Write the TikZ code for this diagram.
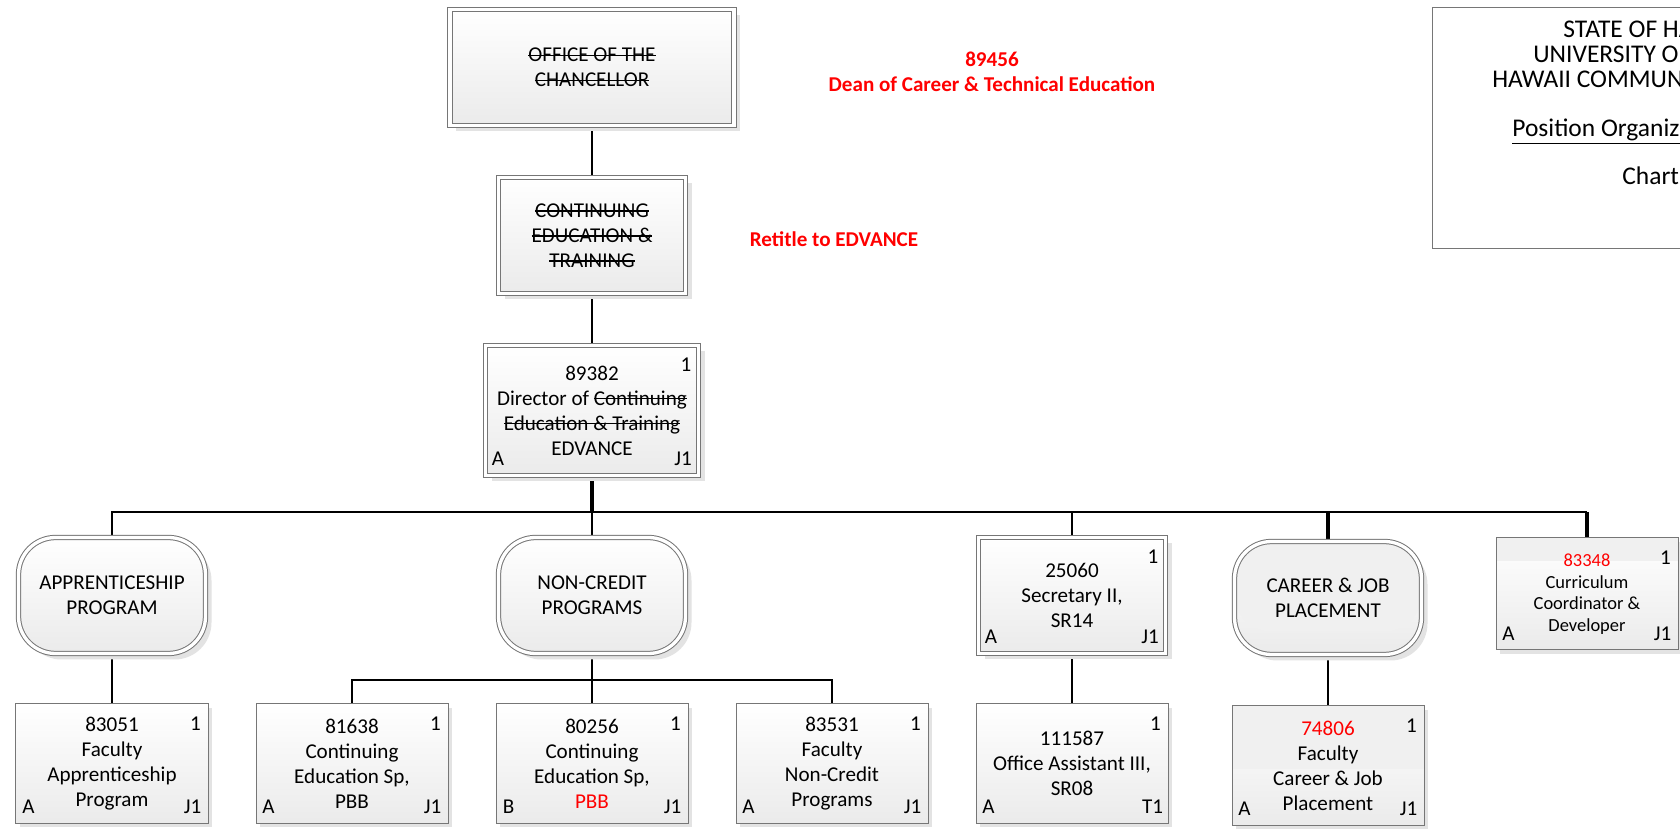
\documentclass[tikz,border=0pt]{standalone}
\usepackage{fontspec}
\setmainfont{Carlito}
\usetikzlibrary{shadows,backgrounds}
\definecolor{boxline}{RGB}{118,118,118}
\definecolor{chg}{RGB}{255,0,0}
\newsavebox{\strkbox}
\newcommand{\strk}[1]{\sbox{\strkbox}{#1}\rlap{\rule[0.27em]{\wd\strkbox}{0.7pt}}\usebox{\strkbox}}

\tikzset{
  boxtext/.style={font=\fontsize{12}{14.2}\selectfont, align=center},
  posn/.style={boxtext, draw=boxline, line width=0.2mm, inner sep=0pt,
    minimum width=38.4mm, minimum height=23.8mm, top color=white, bottom color=gray!16,
    drop shadow={shadow xshift=#1, shadow yshift=-#1, fill=gray!22, opacity=1}},
  posn/.default=0.8mm,
  dblposn/.style={posn=1.2mm, double=white, double distance=0.66mm,
    minimum width=37.4mm, minimum height=23.2mm},
  unit/.style={dblposn, rounded corners=7.4mm},
  band/.style={path picture={\fill[gray!12] (path picture bounding box.north west)
    rectangle ([yshift=-#1]path picture bounding box.north east);}},
  corner/.style={font=\fontsize{12}{14.2}\selectfont, inner sep=0pt},
  titletxt/.style={font=\fontsize{14.5}{17.5}\selectfont, inner sep=0pt, anchor=base west},
  redlbl/.style={font=\fontsize{12}{14.2}\selectfont\bfseries, text=chg, align=center},
  link/.style={line width=0.4mm},
  tlink/.style={line width=0.8mm}
}

\begin{document}
\begin{tikzpicture}[x=0.2mm,y=-0.2mm]
\useasboundingbox (0,0) rectangle (1680,833);
\clip (0,0) rectangle (1680,833);

\node[dblposn, minimum width=56.8mm] (chanc) at (592,67.5) {\strk{OFFICE OF THE}\\\strk{CHANCELLOR}};
\node[dblposn] (cet) at (592,235.5) {\strk{CONTINUING}\\\strk{EDUCATION \&}\\\strk{TRAINING}};
\node[dblposn, minimum width=42.6mm, minimum height=26mm] (dir) at (592,410.5)
  {89382\\Director of \strk{Continuing}\\\strk{Education \& Training}\\EDVANCE};

\node[unit] (appr) at (112,595.5) {APPRENTICESHIP\\PROGRAM};
\node[unit] (ncp) at (592,595.5) {NON-CREDIT\\PROGRAMS};
\node[dblposn] (sec) at (1072,595.5) {25060\\Secretary II,\\SR14};
\node[unit, minimum height=22.6mm, band=18mm] (cjp) at (1328,598) {CAREER \& JOB\\PLACEMENT};
\node[posn, minimum width=36.4mm, minimum height=22.4mm, band=4.6mm,
  font=\fontsize{10.5}{12.3}\selectfont] (ccd) at (1587,594)
  {\textcolor{chg}{83348}\\Curriculum\\Coordinator \&\\Developer};

\node[posn] (b83051) at (112,763.5) {83051\\Faculty\\Apprenticeship\\Program};
\node[posn] (b81638) at (352,763.5) {81638\\Continuing\\Education Sp,\\PBB};
\node[posn] (b80256) at (592,763.5) {80256\\Continuing\\Education Sp,\\\textcolor{chg}{PBB}};
\node[posn] (b83531) at (832,763.5) {83531\\Faculty\\Non-Credit\\Programs};
\node[posn] (b111587) at (1072,763.5) {111587\\Office Assistant III,\\SR08};
\node[posn, band=12.6mm] (b74806) at (1328,765.5)
  {\textcolor{chg}{74806}\\Faculty\\Career \& Job\\Placement};

\foreach \b/\g/\c in {dir/A/J1, sec/A/J1, ccd/A/J1, b83051/A/J1, b81638/A/J1,
    b80256/B/J1, b83531/A/J1, b111587/A/T1, b74806/A/J1} {
  \node[corner] (\b-n) at ([shift={(-13,20)}]\b.north east) {1};
  \node[corner, anchor=base] (\b-g) at ([shift={(13,-10)}]\b.south west) {\g};
  \node[corner, anchor=base] (\b-c) at ([shift={(-16,-10)}]\b.south east) {\c};
}

\node[redlbl] (dean) at (992,71.5) {89456\\Dean of Career \& Technical Education};
\node[redlbl] (retitle) at (834,239) {Retitle to EDVANCE};

\node[draw=boxline, line width=0.25mm, fill=white, minimum width=100mm,
  minimum height=48.2mm, anchor=north west] (title) at (1432,7) {};
\node[titletxt] (t1) at (1563,37.2) {STATE OF HAWAII};
\node[titletxt] (t2) at (1533,62.8) {UNIVERSITY OF HAWAII};
\node[titletxt] (t3) at (1492,87.5) {HAWAII COMMUNITY COLLEGE};
\node[titletxt] (t4) at (1512,136.8) {\underline{Position Organization}};
\node[titletxt] (t5) at (1622,185) {Chart};

\begin{scope}[on background layer]
\fill[white] (0,0) rectangle (1680,833);
\coordinate (bus) at (592,512);
\coordinate (sub) at (592,680);
\draw[link] (chanc.south) -- (cet.north);
\draw[link] (cet.south) -- (dir.north);
\draw[tlink] (dir.south) -- (bus);
\draw[link] (appr.north) |- (ccd.north |- bus);
\draw[link] (ncp.north) -- (bus);
\draw[link] (sec.north) -- (sec.north |- bus);
\draw[tlink] (cjp.north) -- (cjp.north |- bus);
\draw[tlink] (ccd.north) -- (ccd.north |- bus);
\draw[link] (appr.south) -- (b83051.north);
\draw[link] (ncp.south) -- (sub);
\draw[link] (b81638.north) |- (sub) -| (b83531.north);
\draw[link] (sub) -- (b80256.north);
\draw[link] (sec.south) -- (b111587.north);
\draw[link] (cjp.south) -- (b74806.north);
\end{scope}
\end{tikzpicture}
\end{document}
